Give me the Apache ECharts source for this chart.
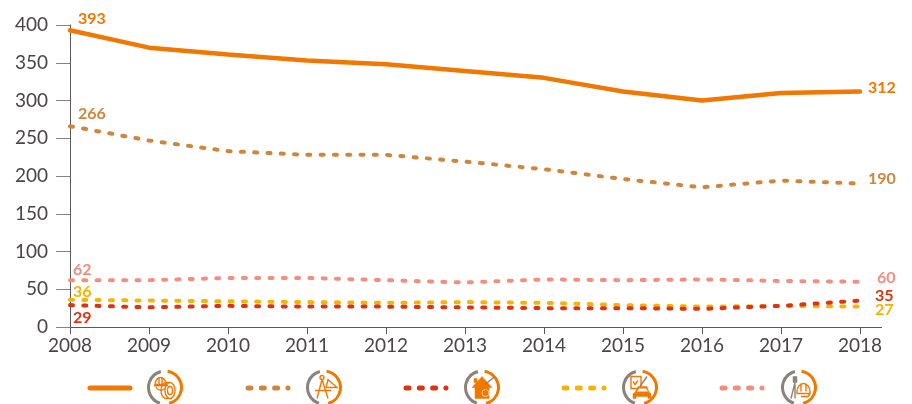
<!DOCTYPE html>
<html>
<head>
<meta charset="utf-8">
<style>html,body{margin:0;padding:0;background:#fff}#chart{width:912px;height:404px}</style>
<script src="https://cdn.jsdelivr.net/npm/echarts@6/dist/echarts.min.js"></script>
</head>
<body>
<div id="chart"></div>
<script>
var years = ['2008','2009','2010','2011','2012','2013','2014','2015','2016','2017','2018'];
var yTicks = [0,50,100,150,200,250,300,350,400];
var machinery = [393,370,361,353,348,339,330,312,300,310,312];
var design = [266,247,233,228,228,219,209,196,185,194,190];
var housing = [29,26,28,27,27,26,25,25,24,28,35];
var vehicles = [36,35,34,33,32,33,32,29,27,28,27];
var survey = [62,62,65,65,62,59,63,62,63,61,60];

var FONT = 'Lato';
var GREY = '#8c827c';
var ORANGE = '#f07800';

function makeSeries(values, color, dashed, firstOffset, lastOffset) {
  var data = values.map(function (v, i) {
    var item = { value: v };
    if (i === 0 || i === values.length - 1) {
      item.label = { show: true, position: 'right', distance: 0, offset: i === 0 ? firstOffset : lastOffset };
    }
    return item;
  });
  return {
    type: 'line',
    data: data,
    symbol: 'circle',
    symbolSize: 0,
    showAllSymbol: true,
    smooth: false,
    clip: false,
    silent: true,
    lineStyle: dashed
      ? { color: color, width: 4, type: [3, 10.3], cap: 'round' }
      : { color: color, width: 4.5, cap: 'round' },
    itemStyle: { color: color },
    label: { show: false, color: color, fontFamily: FONT, fontWeight: 'bold', fontSize: 16 }
  };
}

// legend: sample line plus a ring with a small pictogram
function ring(cx, cy) {
  return [
    { type: 'arc', shape: { cx: cx, cy: cy, r: 16.5, startAngle: Math.PI * 0.6, endAngle: Math.PI * 1.42 },
      style: { stroke: GREY, lineWidth: 3, fill: null } },
    { type: 'arc', shape: { cx: cx, cy: cy, r: 16.5, startAngle: -Math.PI * 0.45, endAngle: Math.PI * 0.42 },
      style: { stroke: ORANGE, lineWidth: 3, fill: null } }
  ];
}
function sample(x, color, dashed) {
  return {
    type: 'line',
    shape: { x1: x + 2, y1: 388, x2: x + 42, y2: 388 },
    style: dashed
      ? { stroke: color, lineWidth: 5, lineDash: [3, 10.3], lineCap: 'round' }
      : { stroke: color, lineWidth: 5, lineCap: 'round' }
  };
}
var pictCount = 0;
function pict(cx, cy, d, style) {
  var name = 'legendPict' + (pictCount++);
  echarts.graphic.registerShape(name, echarts.graphic.extendPath(d, {}));
  return { type: name, x: cx, y: cy, style: style };
}
var outline = { fill: null, stroke: ORANGE, lineWidth: 1.4 };
var solid = { fill: ORANGE, stroke: ORANGE, lineWidth: 0.5 };
var greyLine = { fill: null, stroke: GREY, lineWidth: 1.4 };
var greySolid = { fill: GREY, stroke: GREY, lineWidth: 0.5 };
var whiteSolid = { fill: '#fff', stroke: null };

var graphics = [
  // tail of the x axis past the last year
  { type: 'line', shape: { x1: 860, y1: 327.5, x2: 882, y2: 327.5 }, style: { stroke: '#5d5858', lineWidth: 1 } },
  sample(88, ORANGE, false), sample(246, '#d0853b', true), sample(404, '#dd3311', true),
  sample(562, '#f5b400', true), sample(720, '#f58c80', true)
].concat(ring(165, 387.5), ring(324, 387.5), ring(482, 387.5), ring(640, 387.5), ring(799, 387.5)).concat([
  // helmet + tyre
  pict(165, 387.5, 'M-10,-3 A5.5,7 0 0 1 1,-3 Z M-11,-2 H3 M-9,-1 A5,4 0 0 0 0,1 M-6,-9 V-3 M-3,-9 V-3', outline),
  pict(165, 387.5, 'M5,11 A5,8 0 1 1 5,-5 A5,8 0 1 1 5,11 M5,7 A2.5,4 0 1 1 5,-1 A2.5,4 0 1 1 5,7 M5,11 H1 A5,8 0 0 1 1,-5 H5', outline),
  // compass + set square
  pict(324, 387.5, 'M-2,-8 L-7,11 M-2,-8 L4,11 M-9,3 H7 M-2,-8 a2,2 0 1 1 0.1,0', outline),
  pict(324, 387.5, 'M4,-8 L13,0 H2 Z', outline),
  // house + key
  pict(482, 387.5, 'M-10,0 L0,-11 L10,0 H7 V11 H-7 V0 Z M-8,-9 H-5 V-5 H-8 Z', solid),
  pict(482, 387.5, 'M3.5,2 a3.5,3.5 0 1 1 -0.1,0', { fill: null, stroke: '#f8c9a0', lineWidth: 1 }),
  pict(482, 387.5, 'M3,-3 L13,-11', greyLine),
  // checklist + car
  pict(640, 387.5, 'M-9,-11 H1 V1 H-9 Z M-7,-6 L-5,-3 L-2,-7', outline),
  pict(640, 387.5, 'M0,-1 L7,-11', greyLine),
  pict(640, 387.5, 'M-7,11 V6 L-5,5 L-2,-1 H7 L9,5 L11,6 V11 H8 V9 H-4 V11 Z', solid),
  pict(640, 387.5, 'M-3,4 L-1,1 H6 L8,4 Z', whiteSolid),
  // survey pole + helmet
  pict(799, 387.5, 'M-4,-5 L-8,11 M-4,-5 L-4,11', greyLine),
  pict(799, 387.5, 'M-6,-11 H-2 V-5 H-6 Z', greySolid),
  pict(799, 387.5, 'M-2,4 A6.5,8 0 0 1 11,4 V6 H-2 Z M2,9 H9 L11,6 M2,-3 V4 M7,-3 V4', outline)
]);

var chart = echarts.init(document.getElementById('chart'), null, { renderer: 'canvas' });
chart.setOption({
  animation: false,
  backgroundColor: '#fff',
  grid: { left: 70, right: 52, top: 25, bottom: 77 },
  xAxis: {
    type: 'category',
    data: years,
    boundaryGap: false,
    axisLine: { lineStyle: { color: '#5d5858', width: 1 } },
    axisTick: { alignWithLabel: true, length: 7, lineStyle: { color: '#5d5858', width: 1 } },
    axisLabel: { color: '#4a4545', fontFamily: FONT, fontSize: 19, margin: 9, interval: 0, showMinLabel: true, showMaxLabel: true, hideOverlap: false },
    splitLine: { show: false }
  },
  yAxis: {
    type: 'value',
    min: yTicks[0],
    max: yTicks[yTicks.length - 1],
    interval: 50,
    axisLine: { show: true, lineStyle: { color: '#5d5858', width: 1 } },
    axisTick: { show: true, length: 14, lineStyle: { color: '#8a8480', width: 1 } },
    axisLabel: { color: '#4a4545', fontFamily: FONT, fontSize: 19, margin: 22 },
    splitLine: { show: false }
  },
  series: [
    makeSeries(machinery, ORANGE, false, [8, -11], [8, -4]),
    makeSeries(design, '#d0853b', true, [8, -12], [8, -5]),
    makeSeries(survey, '#f58c80', true, [3, -10], [17, -4]),
    makeSeries(vehicles, '#f5b400', true, [3, -8], [15, 3]),
    makeSeries(housing, '#dd3311', true, [3, 13], [15, -5])
  ],
  graphic: graphics
});
</script>
</body>
</html>
